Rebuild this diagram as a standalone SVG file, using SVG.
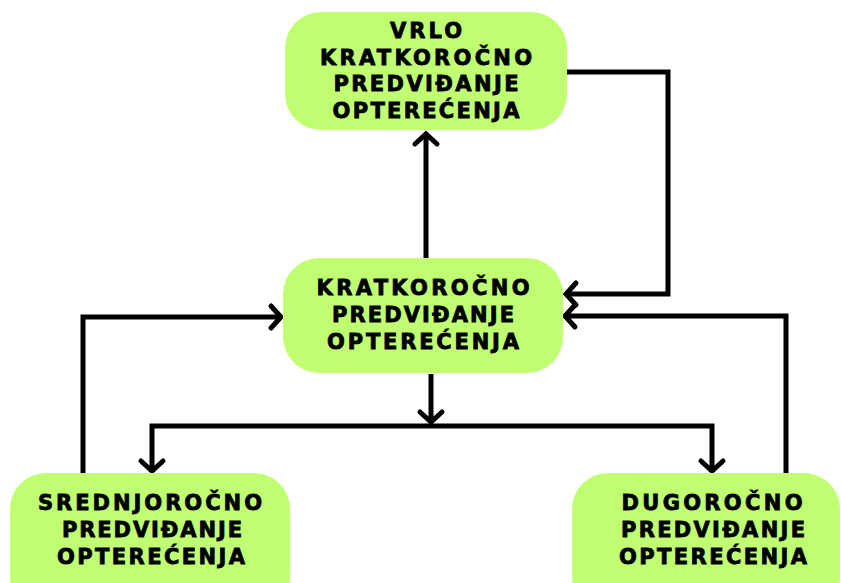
<svg xmlns="http://www.w3.org/2000/svg" width="841" height="583" viewBox="0 0 841 583">
<defs>
<style>
.node{fill:#c1ff72;}
.lbl{font-family:"DejaVu Sans",sans-serif;font-weight:bold;font-size:21px;fill:#000;stroke:#000;stroke-width:0.8px;text-anchor:middle;}
.conn{fill:none;stroke:#000;stroke-width:5;stroke-linejoin:miter;}
</style>
<marker id="arr" markerUnits="userSpaceOnUse" markerWidth="30" markerHeight="30" viewBox="-15 -15 30 30" refX="0" refY="0" orient="auto" overflow="visible">
<path d="M-11,-11 L-1,0 L-11,11" fill="none" stroke="#000" stroke-width="5" stroke-linecap="round" stroke-linejoin="miter"/>
</marker>
</defs>
<rect width="841" height="583" fill="#fff"/>
<g id="connectors">
<path class="conn" d="M426,258 V133" marker-end="url(#arr)"/>
<path class="conn" d="M567,72 H668 V294 H565" marker-end="url(#arr)"/>
<path class="conn" d="M83,473 V317 H282" marker-end="url(#arr)"/>
<path class="conn" d="M786,473 V316 H564" marker-end="url(#arr)"/>
<path class="conn" d="M431,374 V423" marker-end="url(#arr)"/>
<path class="conn" d="M431,426 H152 V472" marker-end="url(#arr)"/>
<path class="conn" d="M431,426 H712 V472" marker-end="url(#arr)"/>
</g>
<g id="node-vrlo">
<rect class="node" x="285" y="12" width="282" height="118" rx="36"/>
<text class="lbl" x="426" y="38" textLength="72" lengthAdjust="spacing">VRLO</text>
<text class="lbl" x="426" y="64.5" textLength="212" lengthAdjust="spacing">KRATKOROČNO</text>
<text class="lbl" x="426" y="91" textLength="185" lengthAdjust="spacing">PREDVIĐANJE</text>
<text class="lbl" x="426" y="117.5" textLength="187" lengthAdjust="spacing">OPTEREĆENJA</text>
</g>
<g id="node-kratko">
<rect class="node" x="283" y="258" width="280" height="115" rx="36"/>
<text class="lbl" x="423" y="295" textLength="213" lengthAdjust="spacing">KRATKOROČNO</text>
<text class="lbl" x="423" y="322" textLength="182" lengthAdjust="spacing">PREDVIĐANJE</text>
<text class="lbl" x="423" y="348.5" textLength="192" lengthAdjust="spacing">OPTEREĆENJA</text>
</g>
<g id="node-srednjo">
<rect class="node" x="10" y="473" width="280" height="140" rx="36"/>
<text class="lbl" x="150" y="510" textLength="224" lengthAdjust="spacing">SREDNJOROČNO</text>
<text class="lbl" x="152" y="537" textLength="180" lengthAdjust="spacing">PREDVIĐANJE</text>
<text class="lbl" x="151" y="563.5" textLength="188" lengthAdjust="spacing">OPTEREĆENJA</text>
</g>
<g id="node-dugo">
<rect class="node" x="572" y="473" width="268" height="140" rx="36"/>
<text class="lbl" x="712" y="510" textLength="181" lengthAdjust="spacing">DUGOROČNO</text>
<text class="lbl" x="713" y="537" textLength="184" lengthAdjust="spacing">PREDVIĐANJE</text>
<text class="lbl" x="713" y="563.5" textLength="188" lengthAdjust="spacing">OPTEREĆENJA</text>
</g>
</svg>
